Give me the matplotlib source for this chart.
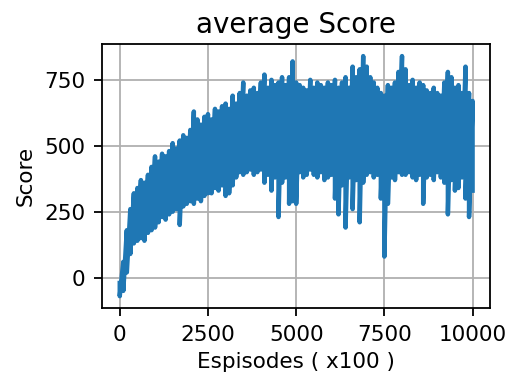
import numpy as np
import matplotlib
matplotlib.use("Agg")
import matplotlib.pyplot as plt

# episode checkpoints (x100), every 100
episodes = np.arange(0, 10001, 100)

# band top / bottom of the score trace at each checkpoint
upper = [-20, 60, 180, 260, 320, 340, 370, 360, 390, 420,
         460, 440, 470, 460, 480, 510, 490, 520, 540, 530,
         560, 630, 600, 580, 610, 620, 600, 640, 630, 650,
         660, 640, 690, 660, 700, 740, 690, 710, 720, 700,
         740, 770, 720, 750, 730, 740, 760, 730, 760, 820,
         740, 730, 720, 710, 750, 720, 740, 730, 720, 740,
         730, 750, 720, 740, 760, 720, 800, 760, 790, 840,
         800, 760, 740, 720, 700, 690, 730, 720, 740, 780,
         840, 790, 730, 750, 720, 740, 730, 710, 700, 720,
         700, 690, 740, 780, 760, 720, 730, 700, 800, 700,
         670]
lower = [-70, -50, 20, 90, 130, 140, 150, 140, 170, 180,
         190, 210, 230, 220, 240, 250, 260, 200, 270, 280,
         290, 280, 300, 290, 310, 320, 320, 340, 330, 350,
         310, 320, 350, 380, 400, 390, 400, 410, 390, 400,
         410, 360, 390, 330, 380, 230, 360, 380, 280, 290,
         280, 400, 380, 390, 410, 390, 380, 400, 370, 380,
         390, 300, 240, 350, 190, 380, 260, 370, 210, 360,
         390, 400, 380, 390, 300, 80, 280, 380, 370, 400,
         390, 390, 400, 380, 370, 390, 280, 380, 390, 370,
         400, 380, 360, 240, 370, 330, 340, 380, 300, 230,
         330]

x = np.repeat(episodes, 2)
y = np.column_stack([upper, lower]).ravel()

fig = plt.figure(figsize=(5.08, 3.8), dpi=100)
ax = fig.add_axes([0.201, 0.189, 0.764, 0.695])
ax.plot(x, y, color='tab:blue', linewidth=3.2)
ax.set_title("average Score", fontsize=20, pad=8)
ax.set_xlabel("Espisodes ( x100 )", fontsize=15.5, labelpad=5)
ax.set_ylabel("Score", fontsize=15.5, labelpad=6)
ax.set_xticks([0, 2500, 5000, 7500, 10000])
ax.set_yticks([0, 250, 500, 750])
ax.tick_params(labelsize=15.5, length=6, width=1.3, pad=6)
ax.grid(True, color='#b0b0b0', linewidth=1.3)
for s in ax.spines.values():
    s.set_linewidth(1.3)
fig.savefig("out.png", dpi=100)
